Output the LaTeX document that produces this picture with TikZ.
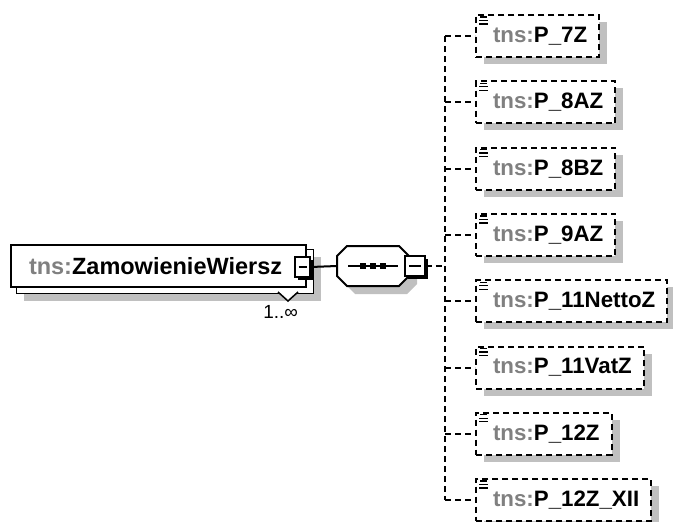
\documentclass[tikz,border=0pt]{standalone}
\usepackage{fontspec}
\setmainfont{Liberation Sans}
\usetikzlibrary{shadows,backgrounds}
\definecolor{nsgray}{HTML}{808080}
\definecolor{shadowgray}{HTML}{C0C0C0}
\newcommand{\tns}{\textcolor{nsgray}{tns:}}
\newcommand{\octpath}{(-36,-10) -- (-26,-20) -- (26,-20) -- (36,-10) -- (36,10) -- (26,20) -- (-26,20) -- (-36,10) -- cycle}
\tikzset{
  conn/.style={dash pattern=on 6pt off 4pt},
  mainelem/.style={draw, fill=white, anchor=west, minimum height=42pt, inner xsep=18pt, inner ysep=0pt,
    font=\fontsize{23.5}{28}\selectfont\bfseries, execute at end node=\hspace*{6pt}},
  elem/.style={draw, fill=white, dash pattern=on 6pt off 4pt, anchor=west, minimum height=42pt,
    inner xsep=12pt, inner ysep=0pt, font=\fontsize{22.3}{26}\selectfont\bfseries,
    execute at begin node=\hspace*{5pt},
    drop shadow={shadow xshift=8pt, shadow yshift=-7pt, fill=shadowgray, opacity=1}},
  btn/.style={draw, fill=white, line width=1.6pt, inner sep=0pt, minimum height=20pt,
    drop shadow={shadow xshift=2.5pt, shadow yshift=-2.5pt, fill=black, opacity=1},
    path picture={\draw[line width=1.8pt] ([xshift=-#1]path picture bounding box.center) -- ([xshift=#1]path picture bounding box.center);}},
  icon/.style={line width=1.3pt},
}
\begin{document}
\begin{tikzpicture}[x=1pt,y=-1pt,line width=2pt]
\useasboundingbox (0,0) rectangle (673,522);
\node[mainelem] (zw) at (10,266) {\tns ZamowienieWiersz};
\begin{scope}[on background layer]
\fill[shadowgray] ([shift={(14,13)}]zw.north west) rectangle ([shift={(14,13)}]zw.south east);
\draw[fill=white] ([shift={(6,5)}]zw.north west) rectangle ([shift={(6,5)}]zw.south east);
\end{scope}
\draw[fill=white,line width=1.5pt] (278,292) -- (288,301) -- (298,292);
\node[font=\fontsize{19}{22}\selectfont, anchor=north east, inner sep=0pt] (zwocc) at (299,304) {1..∞};
\node[btn=4pt, minimum width=15pt] (zwbtn) at (302.5,267) {};
\coordinate (seq) at (373,266);
\coordinate (seqin) at (337,266);
\fill[shadowgray, shift={(381,274)}] \octpath;
\draw[fill=white, shift={(373,266)}] \octpath;
\draw ([xshift=-25]seq) -- ([xshift=25]seq);
\foreach \dx in {-10,0,10}
  \fill ([xshift=\dx]seq) +(-3,-3) rectangle +(3,3);
\draw (zwbtn.east) -- (seqin);
\node[btn=6pt, minimum width=20pt] (seqbtn) at (415,266) {};
\coordinate (bus) at (445,266);
\draw[conn] (seqbtn.east) -- (bus);
\foreach \nm/\lbl [count=\i from 0] in {p7z/P\_7Z, p8az/P\_8AZ, p8bz/P\_8BZ, p9az/P\_9AZ,
    p11nettoz/P\_11NettoZ, p11vatz/P\_11VatZ, p12z/P\_12Z, p12zxii/P\_12Z\_XII} {
  \node[elem] (\nm) at (475,36+66.3*\i) {\tns\lbl};
  \draw[icon] ([shift={(5,3)}]\nm.north west) -- ++(7,0);
  \draw[icon] ([shift={(4,6.5)}]\nm.north west) -- ++(9,0);
  \draw[icon] ([shift={(4,10)}]\nm.north west) -- ++(9,0);
  \draw[conn] (bus |- \nm.west) -- (\nm.west);
}
\draw[conn] (bus |- p7z.west) -- (bus |- p12zxii.west);
\end{tikzpicture}
\end{document}
